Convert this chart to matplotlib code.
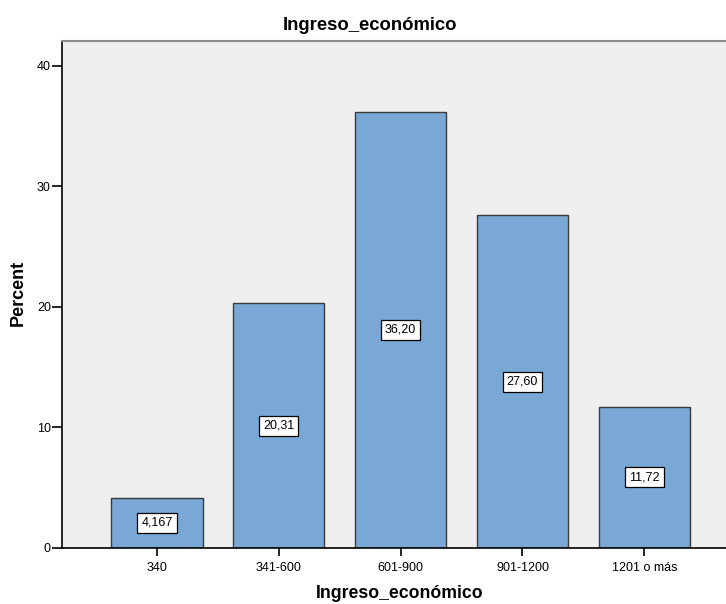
import matplotlib
matplotlib.use("Agg")
import matplotlib.pyplot as plt

plt.rcParams['font.family'] = ['Liberation Sans', 'DejaVu Sans']

categories = ["340", "341-600", "601-900", "901-1200", "1201 o más"]
percents = [4.167, 20.31, 36.20, 27.60, 11.72]
value_labels = ["4,167", "20,31", "36,20", "27,60", "11,72"]
y_ticks = [0, 10, 20, 30, 40]

fig = plt.figure(figsize=(7.26, 6.04), dpi=100)
ax = fig.add_axes([62 / 726, 1 - 548 / 604, 664 / 726, 507 / 604])
ax.set_facecolor("#EFEFEF")

x = list(range(len(categories)))
ax.bar(x, percents, width=0.75, color="#79A8D6", edgecolor="#3A3A3A",
       linewidth=1.0, zorder=2)

for xi, v, lab in zip(x, percents, value_labels):
    ax.text(xi, v / 2, lab, ha="center", va="center", fontsize=9,
            color="black", zorder=3,
            bbox=dict(boxstyle="square,pad=0.32", facecolor="white",
                      edgecolor="black", linewidth=0.9))

ax.set_xlim(-0.779, 4.67)
ax.set_ylim(0, 42.07)
ax.set_xticks(x)
ax.set_xticklabels(categories, fontsize=9)
ax.set_yticks(y_ticks)
ax.set_yticklabels([str(t) for t in y_ticks], fontsize=9)
ax.tick_params(axis="y", direction="out", length=7, width=1.2, pad=1)
ax.tick_params(axis="x", direction="out", length=6, width=1.2, pad=4)

for side in ("left", "bottom"):
    ax.spines[side].set_color("black")
    ax.spines[side].set_linewidth(1.2)
ax.spines["top"].set_color("#8A8A8A")
ax.spines["top"].set_linewidth(1.5)
ax.spines["right"].set_visible(False)

fig.text(370 / 726, 1 - 26 / 604, "Ingreso_económico", ha="center",
         va="center", fontsize=13.3, fontweight="bold")
fig.text(400 / 726, 1 - 594 / 604, "Ingreso_económico", ha="center",
         va="center", fontsize=12.7, fontweight="bold")
fig.text(18 / 726, 1 - 293 / 604, "Percent", ha="center", va="center",
         rotation=90, fontsize=13, fontweight="bold")

fig.savefig("out.png", dpi=100)
